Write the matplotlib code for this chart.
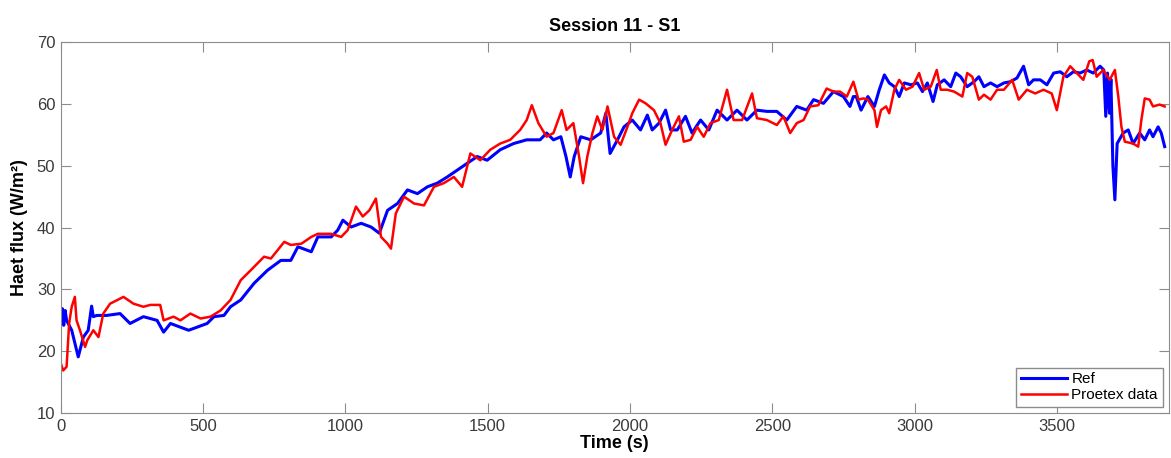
import numpy as np
import matplotlib.pyplot as plt

plt.rcParams['font.family'] = ['Liberation Sans', 'DejaVu Sans']

# Reference sensor (blue)
ref_t = [0, 5, 10, 15, 20, 38, 55, 61, 79, 96, 108, 114, 126, 161, 208, 243, 290, 338, 361,
         385, 420, 449, 479, 514, 538, 573, 596, 632, 679, 726, 773, 808, 833, 880, 903,
         950, 973, 991, 1020, 1055, 1090, 1119, 1148, 1183, 1218, 1253, 1288, 1323, 1358,
         1393, 1428, 1463, 1498, 1544, 1591, 1637, 1684, 1707, 1731, 1757, 1775, 1790,
         1804, 1827, 1862, 1897, 1915, 1930, 1956, 1979, 2008, 2037, 2061, 2078, 2102,
         2125, 2143, 2166, 2195, 2218, 2248, 2277, 2306, 2341, 2376, 2411, 2446, 2481,
         2516, 2551, 2586, 2621, 2645, 2680, 2715, 2750, 2773, 2785, 2795, 2812, 2836,
         2859, 2876, 2894, 2911, 2929, 2946, 2964, 2987, 3010, 3028, 3045, 3065, 3080,
         3104, 3127, 3145, 3162, 3185, 3209, 3226, 3244, 3267, 3290, 3314, 3337, 3360,
         3383, 3401, 3418, 3442, 3465, 3489, 3512, 3535, 3558, 3582, 3605, 3628, 3652,
         3665, 3672, 3678, 3685, 3690, 3697, 3704, 3712, 3733, 3751, 3768, 3791, 3809,
         3826, 3838, 3856, 3867, 3879]
ref_v = [24.5, 26.9, 24.2, 26.6, 25.0, 23.4, 20.2, 19.1, 22.3, 23.4, 27.3, 25.6, 25.8, 25.8,
         26.1, 24.5, 25.6, 25.0, 23.1, 24.5, 23.9, 23.4, 23.9, 24.5, 25.6, 25.8, 27.2, 28.3,
         31.0, 33.1, 34.7, 34.7, 36.9, 36.1, 38.5, 38.5, 39.6, 41.2, 40.1, 40.7, 40.1, 39.1,
         42.8, 43.9, 46.1, 45.5, 46.6, 47.2, 48.2, 49.3, 50.4, 51.5, 50.9, 52.6, 53.6, 54.2,
         54.2, 55.3, 54.2, 54.7, 51.5, 48.2, 51.5, 54.7, 54.2, 55.3, 58.5, 52.0, 54.2, 56.3,
         57.4, 55.8, 58.2, 55.8, 56.9, 59.0, 55.8, 55.8, 58.0, 55.3, 57.4, 55.8, 59.0, 57.4,
         59.0, 57.4, 59.0, 58.8, 58.8, 57.4, 59.6, 59.0, 60.7, 60.1, 62.0, 61.2, 59.6, 61.2,
         61.2, 59.0, 61.2, 59.6, 62.3, 64.7, 63.4, 62.8, 61.2, 63.4, 63.1, 63.4, 62.0, 63.4,
         60.4, 63.1, 63.9, 62.8, 65.0, 64.4, 62.8, 63.6, 64.4, 62.8, 63.4, 62.8, 63.4, 63.6,
         64.2, 66.1, 63.1, 63.9, 63.9, 63.1, 65.0, 65.2, 64.4, 65.2, 65.0, 65.5, 65.0, 66.1,
         65.5, 58.0, 65.0, 58.5, 64.0, 50.0, 44.5, 53.6, 55.3, 55.8, 53.6, 55.3, 54.2, 55.8,
         54.7, 56.3, 55.3, 53.1]

# Proetex garment sensor (red)
pro_t = [0, 8, 20, 29, 38, 49, 55, 67, 85, 93, 114, 132, 149, 173, 220, 255, 290, 314, 349,
         361, 396, 420, 455, 491, 526, 561, 596, 632, 667, 714, 738, 785, 808, 845, 880,
         903, 950, 985, 1008, 1037, 1061, 1084, 1107, 1125, 1148, 1160, 1177, 1206, 1241,
         1276, 1311, 1346, 1381, 1410, 1439, 1474, 1509, 1544, 1579, 1614, 1637, 1655,
         1678, 1707, 1731, 1760, 1777, 1801, 1821, 1835, 1850, 1868, 1885, 1903, 1921,
         1944, 1967, 1991, 2008, 2032, 2055, 2084, 2107, 2125, 2148, 2172, 2189, 2213,
         2236, 2259, 2283, 2312, 2341, 2364, 2394, 2429, 2446, 2481, 2516, 2539, 2563,
         2586, 2610, 2633, 2662, 2691, 2715, 2738, 2762, 2785, 2803, 2820, 2836, 2859,
         2868, 2882, 2900, 2911, 2929, 2946, 2970, 2993, 3016, 3034, 3057, 3078, 3092,
         3115, 3139, 3168, 3185, 3203, 3226, 3244, 3267, 3290, 3314, 3343, 3366, 3395,
         3424, 3453, 3482, 3500, 3523, 3547, 3570, 3593, 3614, 3626, 3640, 3663, 3686,
         3704, 3716, 3727, 3739, 3768, 3786, 3797, 3809, 3826, 3838, 3861, 3879]
pro_v = [18.0, 16.9, 17.5, 24.5, 27.2, 28.8, 25.0, 23.4, 20.7, 21.8, 23.4, 22.3, 26.1, 27.7,
         28.8, 27.7, 27.2, 27.5, 27.5, 25.0, 25.6, 25.0, 26.1, 25.3, 25.6, 26.6, 28.3, 31.5,
         33.1, 35.3, 35.0, 37.7, 37.2, 37.4, 38.5, 39.0, 39.0, 38.5, 39.6, 43.4, 41.8, 42.8,
         44.7, 38.5, 37.4, 36.6, 42.3, 45.0, 43.9, 43.6, 46.6, 47.2, 48.2, 46.6, 52.0, 50.9,
         52.6, 53.6, 54.2, 55.8, 57.4, 59.8, 56.9, 54.7, 55.3, 59.0, 55.8, 56.9, 51.5, 47.2,
         51.5, 55.3, 58.0, 55.8, 59.6, 54.7, 53.4, 56.3, 58.5, 60.7, 60.1, 59.0, 56.9, 53.4,
         55.8, 58.0, 53.9, 54.2, 56.3, 54.7, 56.9, 57.4, 62.3, 57.4, 57.4, 61.7, 57.7, 57.4,
         56.6, 58.0, 55.3, 56.9, 57.4, 59.6, 59.8, 62.5, 62.0, 62.0, 61.2, 63.6, 60.7, 60.9,
         60.7, 59.0, 56.3, 59.0, 59.6, 58.5, 62.3, 63.9, 62.3, 62.8, 65.0, 62.3, 62.8, 65.5,
         62.3, 62.3, 62.0, 61.2, 65.0, 64.4, 60.7, 61.5, 60.7, 62.3, 62.3, 63.9, 60.7, 62.3,
         61.7, 62.3, 61.7, 59.0, 64.4, 66.1, 65.0, 63.9, 66.9, 67.1, 64.4, 65.5, 63.9, 65.5,
         61.2, 56.3, 53.9, 53.6, 53.1, 57.4, 60.9, 60.7, 59.6, 59.9, 59.6]

fig = plt.figure(figsize=(11.71, 4.58), dpi=100)
ax = fig.add_axes([0.052, 0.098, 0.946, 0.81])

ax.plot(ref_t, ref_v, color='#0000ff', lw=2.2, label='Ref')
ax.plot(pro_t, pro_v, color='#ff0000', lw=1.8, label='Proetex data')

ax.set_xlim(0, 3893)
ax.set_ylim(10, 70)
ax.set_xticks([0, 500, 1000, 1500, 2000, 2500, 3000, 3500])
ax.set_yticks([10, 20, 30, 40, 50, 60, 70])

for s in ax.spines.values():
    s.set_color('#8c8c8c')
ax.tick_params(direction='in', top=True, right=True, length=7, color='#8c8c8c',
               labelsize=12, labelcolor='#3a3a3a', pad=4)

ax.set_xlabel('Time (s)', fontsize=13, fontweight='bold', labelpad=1)
ax.set_ylabel('Haet flux (W/m²)', fontsize=13, fontweight='bold', labelpad=6)
ax.set_title('Session 11 - S1', fontsize=13, fontweight='bold', pad=8)

leg = ax.legend(loc='lower right', fontsize=11, fancybox=False, framealpha=1,
                edgecolor='#8c8c8c', handlelength=3.0, handletextpad=0.3,
                borderpad=0.3, labelspacing=0.15, borderaxespad=0.4)
leg.get_frame().set_linewidth(1.0)

plt.savefig('out.png', dpi=100)
